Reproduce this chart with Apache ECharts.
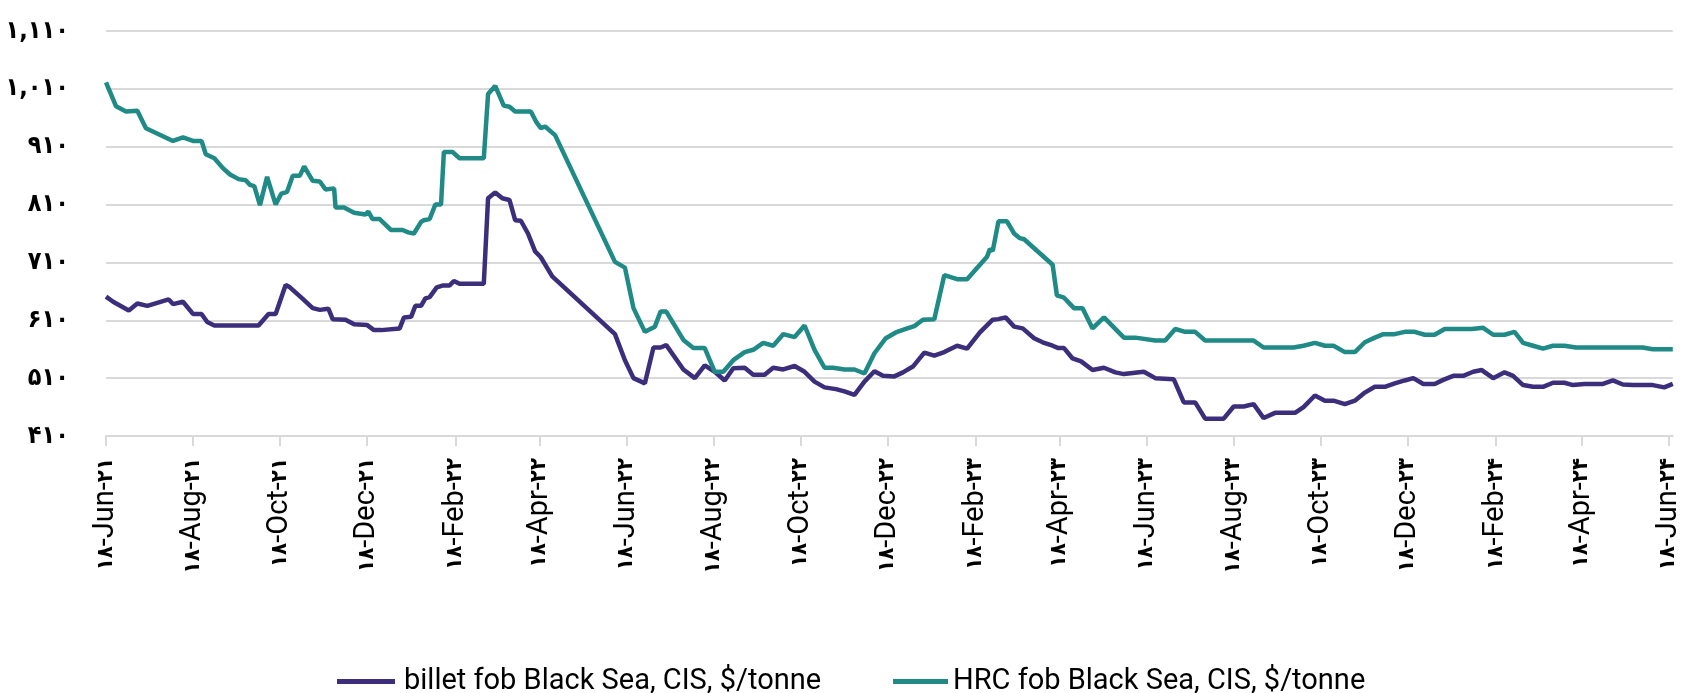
<!DOCTYPE html>
<html>
<head>
<meta charset="utf-8">
<script src="https://cdn.jsdelivr.net/npm/echarts@6/dist/echarts.min.js"></script>
<style>
html,body{margin:0;padding:0;background:#fff;}
#chart{width:1683px;height:693px;}
</style>
</head>
<body>
<div id="chart"></div>
<script>
// ---- data ----
const startDate = '2021-06-18';
const endDate = '2024-06-21';

const tickDates = ['2021-06-18','2021-08-18','2021-10-18','2021-12-18','2022-02-18','2022-04-18','2022-06-18','2022-08-18','2022-10-18','2022-12-18','2023-02-18','2023-04-18','2023-06-18','2023-08-18','2023-10-18','2023-12-18','2024-02-18','2024-04-18','2024-06-18'];
const tickLabels = ['۱۸-Jun-۲۱','۱۸-Aug-۲۱','۱۸-Oct-۲۱','۱۸-Dec-۲۱','۱۸-Feb-۲۲','۱۸-Apr-۲۲','۱۸-Jun-۲۲','۱۸-Aug-۲۲','۱۸-Oct-۲۲','۱۸-Dec-۲۲','۱۸-Feb-۲۳','۱۸-Apr-۲۳','۱۸-Jun-۲۳','۱۸-Aug-۲۳','۱۸-Oct-۲۳','۱۸-Dec-۲۳','۱۸-Feb-۲۴','۱۸-Apr-۲۴','۱۸-Jun-۲۴'];

const yTicks = [410, 510, 610, 710, 810, 910, 1010, 1110];
const yTickLabels = ['۴۱۰','۵۱۰','۶۱۰','۷۱۰','۸۱۰','۹۱۰','۱,۰۱۰','۱,۱۱۰'];

const billetName = 'billet fob Black Sea, CIS, $/tonne';
const hrcName = 'HRC fob Black Sea, CIS, $/tonne';

// days after startDate
const billetDays = [0,5,16,22,29,44,47,54,61,67,71,76,107,108,114,119,126,129,138,145,150,156,159,168,174,183,188,193,206,209,214,217,221,224,227,232,236,241,244,248,265,268,273,278,283,287,291,296,301,305,313,357,364,370,378,384,389,393,405,413,420,427,434,440,448,454,462,468,475,483,490,497,504,512,518,525,532,539,545,553,559,566,574,581,588,597,604,613,622,626,631,637,643,651,657,664,668,672,678,684,692,700,708,714,728,736,749,756,764,771,784,791,798,805,812,820,834,840,848,855,861,869,876,883,890,897,904,911,917,924,932,938,945,952,959,965,973,981,987,994,1001,1008,1015,1023,1029,1037,1050,1057,1064,1071,1085,1093,1099];
const billetValues = [651,642,627,639,635,646,638,642,621,621,607,601,601,598,621,621,671,667,647,631,628,630,612,611,603,602,593,593,596,615,616,635,635,648,650,667,670,670,678,673,673,821,831,821,818,783,782,760,729,719,686,586,541,510,501,563,563,567,525,510,532,521,506,527,528,516,516,528,525,531,521,504,494,491,487,481,504,522,514,513,520,530,554,549,555,566,561,589,611,612,615,599,596,579,572,566,562,562,544,539,524,528,520,517,521,510,508,468,468,440,440,461,461,465,441,450,450,460,480,471,471,465,471,485,495,495,501,506,510,500,500,507,514,514,521,524,510,520,514,498,495,495,502,502,498,500,500,506,499,498,498,494,500];

const hrcDays = [0,7,14,22,28,47,54,61,67,70,76,82,87,93,98,101,104,108,113,119,123,127,131,136,139,145,150,154,160,161,167,174,182,184,187,192,200,208,212,216,221,223,227,231,235,237,243,248,265,268,273,279,283,287,298,302,305,308,315,357,364,370,378,385,389,393,405,412,420,427,433,440,448,454,461,468,475,483,490,497,504,510,518,525,532,539,547,554,561,567,573,581,588,597,604,618,620,622,626,632,637,641,644,664,667,672,679,685,692,700,714,722,736,743,750,757,764,771,805,812,833,840,848,855,861,869,876,883,890,896,904,911,918,925,932,939,958,966,973,981,988,994,1001,1008,1015,1023,1031,1078,1085,1099];
const hrcValues = [1021,980,971,972,942,920,926,920,920,897,890,873,862,854,852,844,842,809,858,810,829,832,860,860,876,851,850,836,838,805,805,796,793,798,785,785,766,766,762,760,780,783,785,810,810,901,901,890,890,1001,1015,981,979,971,971,952,942,945,930,711,701,631,590,599,625,625,576,562,562,521,521,541,555,559,571,566,586,581,601,559,528,528,525,525,518,553,579,589,595,600,611,612,688,681,681,720,733,730,781,781,760,752,750,706,653,649,631,631,596,615,580,580,575,575,595,590,590,575,575,563,563,566,571,566,566,555,555,572,580,586,586,590,590,585,585,595,595,597,585,585,590,571,566,561,566,566,563,563,560,560];

// ---- build ----
const DAY = 86400000;
function ts(s){ const p = s.split('-').map(Number); return Date.UTC(p[0], p[1]-1, p[2]); }
const t0 = ts(startDate);
const tickTimes = tickDates.map(ts);
const toSeries = (days, vals) => days.map((d, i) => [t0 + d * DAY, vals[i]]);

const chart = echarts.init(document.getElementById('chart'), null, {renderer: 'canvas'});
const legendText = {
  fontFamily: 'Roboto, "Liberation Sans", sans-serif',
  fontSize: 29, color: '#000', padding: [0, 0, 14, 4]
};
chart.setOption({
  animation: false,
  backgroundColor: '#fff',
  grid: { left: 106, right: 9, top: 31, bottom: 257, containLabel: false },
  legend: [
    { data: [billetName], left: 332, top: 662, icon: 'rect', itemWidth: 58, itemHeight: 5, itemGap: 0, textStyle: legendText },
    { data: [hrcName], left: 888, top: 662, icon: 'rect', itemWidth: 55, itemHeight: 5, itemGap: 0,
      textStyle: Object.assign({}, legendText, { padding: [0, 0, 14, 0] }) }
  ],
  xAxis: {
    type: 'value',
    min: t0,
    max: ts(endDate),
    splitLine: { show: false },
    axisLine: { show: true, lineStyle: { color: '#d9d9d9', width: 2 } },
    axisTick: { show: true, length: 10, customValues: tickTimes, lineStyle: { color: '#d9d9d9', width: 2 } },
    axisLabel: {
      customValues: tickTimes,
      rotate: 90,
      margin: 22,
      color: '#000',
      formatter: (v) => {
        const i = tickTimes.indexOf(v);
        if (i < 0) return '';
        const p = tickLabels[i].split('-');
        return '{d|' + p[0] + '}{t|-' + p[1] + '-}{d|' + p[2] + '}';
      },
      rich: {
        d: { fontSize: 22, fontWeight: 'bold', color: '#000',
             fontFamily: '"DejaVu Sans Condensed", "DejaVu Sans", sans-serif' },
        t: { fontSize: 29, color: '#000', fontFamily: 'Roboto, "Liberation Sans", sans-serif' }
      }
    }
  },
  yAxis: {
    type: 'value',
    min: 410,
    max: 1110,
    interval: 100,
    axisLine: { show: false },
    axisTick: { show: false },
    splitLine: { lineStyle: { color: '#d9d9d9', width: 2 } },
    axisLabel: {
      margin: 37,
      color: '#000',
      fontSize: 25,
      fontWeight: 'bold',
      fontFamily: '"DejaVu Sans Condensed", "DejaVu Sans", sans-serif',
      formatter: (v) => { const i = yTicks.indexOf(v); return i >= 0 ? yTickLabels[i] : ''; }
    }
  },
  series: [
    { name: billetName, type: 'line', data: toSeries(billetDays, billetValues), showSymbol: false,
      lineStyle: { width: 4.5, color: '#3d2e7c' }, itemStyle: { color: '#3d2e7c' } },
    { name: hrcName, type: 'line', data: toSeries(hrcDays, hrcValues), showSymbol: false,
      lineStyle: { width: 4.5, color: '#1f8a86' }, itemStyle: { color: '#1f8a86' } }
  ]
});
</script>
</body>
</html>
